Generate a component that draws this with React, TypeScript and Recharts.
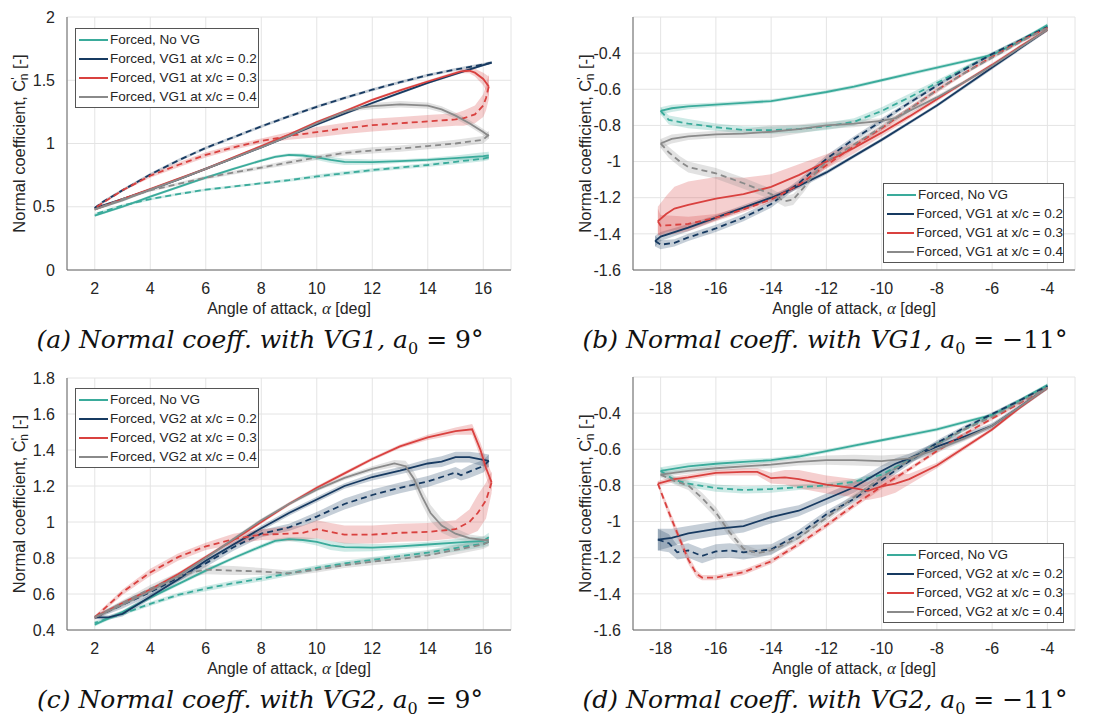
import React from "react";
import { ComposedChart, Line, Area, XAxis, YAxis, CartesianGrid, Label } from "recharts";

// each point: [angle of attack (deg), Cn, half width of the shaded band]
type Pt = [number, number, number];

const TEAL = "#3aab9b";
const NAVY = "#173a61";
const RED = "#d9413f";
const GREY = "#8a8a8a";
const COLORS = [TEAL, NAVY, RED, GREY];

const NAMES_VG1 = ["Forced, No VG", "Forced, VG1 at x/c = 0.2", "Forced, VG1 at x/c = 0.3", "Forced, VG1 at x/c = 0.4"];
const NAMES_VG2 = ["Forced, No VG", "Forced, VG2 at x/c = 0.2", "Forced, VG2 at x/c = 0.3", "Forced, VG2 at x/c = 0.4"];

const X_TICKS_POS = [2, 4, 6, 8, 10, 12, 14, 16];
const X_TICKS_NEG = [-18, -16, -14, -12, -10, -8, -6, -4];
const Y_TICKS_A = [0, 0.5, 1, 1.5, 2];
const Y_TICKS_C = [0.4, 0.6, 0.8, 1, 1.2, 1.4, 1.6, 1.8];
const Y_TICKS_NEG = [-1.6, -1.4, -1.2, -1, -0.8, -0.6, -0.4];

// (a) VG1, a0 = 9 deg
const A_NOVG_S: Pt[] = [[2, 0.43, 0.01], [3, 0.5, 0.01], [4, 0.58, 0.01], [5, 0.655, 0.01], [6, 0.73, 0.01], [7, 0.8, 0.01], [8, 0.865, 0.012], [8.5, 0.895, 0.012], [9, 0.91, 0.012], [9.5, 0.905, 0.015], [10, 0.89, 0.02], [10.5, 0.87, 0.025], [11, 0.855, 0.025], [12, 0.853, 0.02], [13, 0.86, 0.015], [14, 0.87, 0.015], [15, 0.885, 0.02], [16, 0.9, 0.03], [16.2, 0.905, 0.03]];
const A_NOVG_D: Pt[] = [[16.2, 0.89, 0.02], [16, 0.88, 0.02], [15, 0.855, 0.02], [14, 0.83, 0.015], [13, 0.81, 0.015], [12, 0.79, 0.015], [11, 0.765, 0.015], [10, 0.74, 0.015], [9, 0.71, 0.012], [8, 0.685, 0.01], [7, 0.66, 0.01], [6, 0.635, 0.01], [5, 0.6, 0.01], [4, 0.56, 0.01], [3, 0.51, 0.01], [2, 0.44, 0.01]];
const A_VG02_S: Pt[] = [[2, 0.49, 0.01], [3, 0.56, 0.01], [4, 0.635, 0.01], [5, 0.715, 0.01], [6, 0.8, 0.01], [7, 0.885, 0.01], [8, 0.97, 0.01], [9, 1.06, 0.01], [10, 1.15, 0.01], [11, 1.235, 0.01], [12, 1.32, 0.01], [13, 1.4, 0.01], [14, 1.48, 0.01], [15, 1.55, 0.01], [16, 1.62, 0.01], [16.3, 1.64, 0.01]];
const A_VG02_D: Pt[] = [[16.3, 1.64, 0.012], [16, 1.625, 0.012], [15, 1.585, 0.012], [14, 1.54, 0.012], [13, 1.485, 0.012], [12, 1.425, 0.012], [11, 1.36, 0.012], [10, 1.29, 0.012], [9, 1.215, 0.012], [8, 1.135, 0.012], [7, 1.05, 0.012], [6, 0.965, 0.012], [5, 0.865, 0.012], [4, 0.755, 0.012], [3, 0.63, 0.012], [2.3, 0.54, 0.012], [2, 0.49, 0.01]];
const A_VG03_S: Pt[] = [[2, 0.48, 0.01], [3, 0.56, 0.01], [4, 0.64, 0.01], [5, 0.72, 0.01], [6, 0.8, 0.01], [7, 0.89, 0.01], [8, 0.98, 0.01], [9, 1.07, 0.01], [10, 1.17, 0.01], [11, 1.255, 0.01], [12, 1.345, 0.01], [13, 1.42, 0.01], [14, 1.49, 0.01], [15.2, 1.57, 0.015], [15.5, 1.575, 0.02], [15.7, 1.56, 0.03], [16, 1.51, 0.05], [16.2, 1.45, 0.08]];
const A_VG03_D: Pt[] = [[16.2, 1.45, 0.1], [16.1, 1.36, 0.1], [16, 1.3, 0.09], [15.7, 1.23, 0.07], [15.3, 1.2, 0.06], [15, 1.19, 0.05], [14, 1.175, 0.05], [13, 1.16, 0.05], [12, 1.145, 0.05], [11, 1.12, 0.045], [10, 1.09, 0.04], [9, 1.06, 0.03], [8, 1.02, 0.02], [7, 0.97, 0.02], [6, 0.91, 0.02], [5, 0.83, 0.02], [4, 0.745, 0.015], [3, 0.63, 0.01], [2, 0.49, 0.01]];
const A_VG04_S: Pt[] = [[2, 0.48, 0.01], [3, 0.55, 0.01], [4, 0.635, 0.01], [5, 0.715, 0.01], [6, 0.8, 0.01], [7, 0.885, 0.01], [8, 0.97, 0.01], [9, 1.06, 0.01], [10, 1.16, 0.012], [11, 1.25, 0.015], [11.5, 1.28, 0.02], [12, 1.295, 0.025], [13, 1.31, 0.025], [14, 1.3, 0.025], [14.5, 1.27, 0.025], [15, 1.22, 0.025], [15.5, 1.16, 0.025], [16, 1.09, 0.025], [16.2, 1.06, 0.025]];
const A_VG04_D: Pt[] = [[16.2, 1.07, 0.03], [16, 1.03, 0.03], [15, 1.0, 0.03], [14, 0.98, 0.025], [13, 0.96, 0.025], [12, 0.945, 0.025], [11, 0.925, 0.02], [10, 0.89, 0.02], [9, 0.85, 0.02], [8, 0.81, 0.015], [7, 0.77, 0.015], [6, 0.73, 0.015], [5, 0.68, 0.012], [4, 0.63, 0.012], [3, 0.56, 0.01], [2, 0.48, 0.01]];

// (b) VG1, a0 = -11 deg
const B_NOVG_S: Pt[] = [[-4, -0.245, 0.01], [-5, -0.335, 0.01], [-6, -0.41, 0.01], [-7, -0.445, 0.01], [-8, -0.48, 0.01], [-9, -0.515, 0.01], [-10, -0.55, 0.01], [-11, -0.585, 0.01], [-12, -0.615, 0.01], [-13, -0.64, 0.01], [-14, -0.665, 0.01], [-15, -0.675, 0.012], [-16, -0.685, 0.012], [-17, -0.695, 0.015], [-17.6, -0.705, 0.02], [-18, -0.72, 0.02]];
const B_NOVG_D: Pt[] = [[-18, -0.72, 0.02], [-17.7, -0.77, 0.025], [-17, -0.79, 0.025], [-16, -0.81, 0.02], [-15, -0.825, 0.02], [-14, -0.826, 0.02], [-13, -0.82, 0.02], [-12, -0.805, 0.02], [-11, -0.78, 0.02], [-10, -0.72, 0.02], [-9, -0.645, 0.02], [-8, -0.565, 0.015], [-7, -0.485, 0.012], [-6, -0.405, 0.01], [-5, -0.33, 0.01], [-4, -0.25, 0.01]];
const B_VG02_S: Pt[] = [[-4, -0.27, 0.01], [-5, -0.375, 0.01], [-6, -0.48, 0.01], [-7, -0.585, 0.01], [-8, -0.69, 0.01], [-9, -0.785, 0.01], [-10, -0.88, 0.01], [-11, -0.97, 0.01], [-12, -1.06, 0.012], [-13, -1.135, 0.015], [-14, -1.2, 0.015], [-15, -1.255, 0.015], [-16, -1.31, 0.015], [-17, -1.365, 0.02], [-18, -1.415, 0.025], [-18.2, -1.44, 0.03]];
const B_VG02_D: Pt[] = [[-18.2, -1.44, 0.03], [-18, -1.46, 0.025], [-17.5, -1.45, 0.02], [-17, -1.42, 0.02], [-16, -1.37, 0.02], [-15, -1.31, 0.02], [-14, -1.235, 0.02], [-13, -1.12, 0.02], [-12, -0.985, 0.02], [-11, -0.875, 0.015], [-10, -0.775, 0.015], [-9, -0.675, 0.012], [-8, -0.58, 0.01], [-7, -0.49, 0.01], [-6, -0.405, 0.01], [-5, -0.33, 0.01], [-4, -0.255, 0.01]];
const B_VG03_S: Pt[] = [[-4, -0.27, 0.01], [-5, -0.365, 0.01], [-6, -0.465, 0.01], [-7, -0.56, 0.01], [-8, -0.655, 0.012], [-9, -0.75, 0.015], [-10, -0.84, 0.02], [-11, -0.925, 0.03], [-12, -1.0, 0.04], [-13, -1.075, 0.06], [-14, -1.14, 0.07], [-15, -1.18, 0.09], [-16, -1.205, 0.12], [-17, -1.24, 0.13], [-17.5, -1.26, 0.12], [-17.8, -1.29, 0.1], [-18.1, -1.33, 0.08]];
const B_VG03_D: Pt[] = [[-18.1, -1.33, 0.07], [-18, -1.355, 0.06], [-17, -1.345, 0.04], [-16, -1.31, 0.02], [-15, -1.265, 0.015], [-14, -1.21, 0.015], [-13, -1.13, 0.015], [-12, -1.02, 0.015], [-11, -0.915, 0.015], [-10, -0.815, 0.015], [-9, -0.71, 0.015], [-8, -0.605, 0.015], [-7, -0.51, 0.01], [-6, -0.42, 0.01], [-5, -0.335, 0.01], [-4, -0.26, 0.01]];
const B_VG04_S: Pt[] = [[-4, -0.27, 0.01], [-5, -0.37, 0.01], [-6, -0.47, 0.01], [-7, -0.56, 0.01], [-8, -0.645, 0.012], [-9, -0.72, 0.015], [-9.5, -0.76, 0.015], [-10, -0.775, 0.015], [-11, -0.79, 0.02], [-12, -0.8, 0.02], [-13, -0.82, 0.025], [-14, -0.835, 0.035], [-15, -0.845, 0.025], [-16, -0.85, 0.02], [-17, -0.86, 0.02], [-17.6, -0.875, 0.025], [-18, -0.9, 0.025]];
const B_VG04_D: Pt[] = [[-18, -0.9, 0.025], [-17.7, -0.95, 0.03], [-17.3, -1.0, 0.03], [-17, -1.03, 0.03], [-16, -1.065, 0.03], [-15, -1.12, 0.03], [-14.5, -1.15, 0.03], [-14, -1.18, 0.03], [-13.5, -1.22, 0.03], [-13.2, -1.21, 0.03], [-12.8, -1.14, 0.025], [-12.5, -1.08, 0.02], [-12, -1.0, 0.02], [-11, -0.905, 0.015], [-10, -0.81, 0.015], [-9, -0.71, 0.012], [-8, -0.605, 0.01], [-7, -0.51, 0.01], [-6, -0.425, 0.01], [-5, -0.34, 0.01], [-4, -0.26, 0.01]];

// (c) VG2, a0 = 9 deg
const C_NOVG_S: Pt[] = [[2, 0.43, 0.01], [3, 0.5, 0.01], [4, 0.58, 0.01], [5, 0.655, 0.01], [6, 0.73, 0.01], [7, 0.8, 0.01], [8, 0.865, 0.012], [8.5, 0.895, 0.012], [9, 0.905, 0.012], [9.5, 0.9, 0.015], [10, 0.89, 0.02], [10.5, 0.87, 0.025], [11, 0.86, 0.025], [12, 0.858, 0.02], [13, 0.865, 0.015], [14, 0.875, 0.015], [15, 0.885, 0.02], [16, 0.895, 0.025], [16.2, 0.915, 0.025]];
const C_NOVG_D: Pt[] = [[16.2, 0.89, 0.02], [16, 0.88, 0.02], [15, 0.855, 0.02], [14, 0.83, 0.015], [13, 0.81, 0.015], [12, 0.79, 0.015], [11, 0.77, 0.015], [10, 0.745, 0.015], [9, 0.715, 0.015], [8, 0.685, 0.015], [7, 0.66, 0.015], [6, 0.63, 0.015], [5, 0.595, 0.012], [4, 0.545, 0.012], [3, 0.49, 0.01], [2, 0.44, 0.01]];
const C_VG02_S: Pt[] = [[2, 0.47, 0.01], [2.5, 0.47, 0.012], [3, 0.49, 0.015], [4, 0.585, 0.015], [5, 0.68, 0.015], [6, 0.785, 0.015], [7, 0.875, 0.015], [8, 0.965, 0.015], [9, 1.05, 0.015], [10, 1.125, 0.015], [11, 1.2, 0.015], [12, 1.25, 0.02], [13, 1.285, 0.02], [14, 1.325, 0.025], [14.5, 1.335, 0.03], [15, 1.36, 0.03], [15.5, 1.36, 0.03], [16, 1.345, 0.035], [16.2, 1.34, 0.035]];
const C_VG02_D: Pt[] = [[16.2, 1.34, 0.035], [16, 1.31, 0.035], [15.5, 1.28, 0.035], [15.2, 1.26, 0.03], [15, 1.275, 0.03], [14.5, 1.25, 0.03], [14, 1.225, 0.03], [13, 1.19, 0.03], [12, 1.15, 0.03], [11, 1.1, 0.03], [10, 1.03, 0.025], [9, 0.97, 0.02], [8, 0.935, 0.02], [7, 0.86, 0.02], [6, 0.77, 0.02], [5, 0.69, 0.02], [4, 0.61, 0.02], [3, 0.54, 0.02], [2, 0.47, 0.01]];
const C_VG03_S: Pt[] = [[2, 0.47, 0.01], [3, 0.55, 0.01], [4, 0.625, 0.01], [5, 0.71, 0.01], [6, 0.805, 0.01], [7, 0.9, 0.01], [8, 1.0, 0.01], [9, 1.1, 0.01], [10, 1.19, 0.01], [11, 1.27, 0.01], [12, 1.35, 0.01], [13, 1.42, 0.01], [14, 1.47, 0.015], [15, 1.505, 0.02], [15.6, 1.515, 0.03], [15.9, 1.4, 0.04], [16.1, 1.3, 0.05], [16.3, 1.22, 0.05]];
const C_VG03_D: Pt[] = [[16.3, 1.22, 0.06], [16.1, 1.12, 0.1], [15.8, 1.05, 0.1], [15.5, 1.0, 0.07], [15, 0.96, 0.05], [14, 0.945, 0.05], [13, 0.94, 0.05], [12, 0.93, 0.05], [11, 0.93, 0.05], [10.5, 0.945, 0.05], [10, 0.96, 0.05], [9.5, 0.94, 0.04], [9, 0.935, 0.04], [8, 0.93, 0.03], [7, 0.905, 0.03], [6, 0.865, 0.02], [5, 0.805, 0.02], [4, 0.72, 0.02], [3, 0.61, 0.015], [2, 0.47, 0.01]];
const C_VG04_S: Pt[] = [[2, 0.47, 0.01], [3, 0.54, 0.01], [4, 0.615, 0.01], [5, 0.7, 0.01], [6, 0.8, 0.01], [7, 0.905, 0.01], [8, 1.01, 0.01], [9, 1.1, 0.01], [10, 1.18, 0.01], [11, 1.245, 0.012], [12, 1.295, 0.015], [12.8, 1.325, 0.02], [13.2, 1.31, 0.03], [13.5, 1.24, 0.04], [13.8, 1.14, 0.045], [14.1, 1.05, 0.045], [14.5, 0.98, 0.04], [15, 0.935, 0.03], [15.5, 0.91, 0.02], [16, 0.9, 0.02], [16.2, 0.9, 0.02]];
const C_VG04_D: Pt[] = [[16.2, 0.89, 0.025], [16, 0.875, 0.025], [15, 0.845, 0.025], [14, 0.815, 0.025], [13, 0.795, 0.02], [12, 0.78, 0.02], [11, 0.76, 0.015], [10, 0.735, 0.015], [9, 0.715, 0.015], [8, 0.725, 0.02], [7, 0.73, 0.025], [6, 0.735, 0.025], [5.5, 0.72, 0.025], [5, 0.695, 0.025], [4, 0.63, 0.02], [3, 0.55, 0.015], [2, 0.47, 0.01]];

// (d) VG2, a0 = -11 deg
const D_NOVG_S: Pt[] = [[-4, -0.245, 0.01], [-5, -0.33, 0.01], [-6, -0.41, 0.01], [-7, -0.45, 0.01], [-8, -0.49, 0.01], [-9, -0.52, 0.01], [-10, -0.55, 0.01], [-11, -0.58, 0.01], [-12, -0.61, 0.01], [-13, -0.64, 0.012], [-14, -0.66, 0.012], [-15, -0.67, 0.015], [-16, -0.68, 0.015], [-17, -0.695, 0.02], [-18, -0.72, 0.02]];
const D_NOVG_D: Pt[] = [[-18, -0.72, 0.02], [-17.5, -0.77, 0.02], [-17, -0.79, 0.02], [-16, -0.815, 0.02], [-15, -0.825, 0.02], [-14, -0.82, 0.02], [-13, -0.81, 0.015], [-12, -0.8, 0.015], [-11, -0.78, 0.015], [-10, -0.74, 0.015], [-9, -0.66, 0.015], [-8, -0.57, 0.012], [-7, -0.49, 0.01], [-6, -0.41, 0.01], [-5, -0.33, 0.01], [-4, -0.25, 0.01]];
const D_VG02_S: Pt[] = [[-4, -0.26, 0.01], [-5, -0.365, 0.012], [-6, -0.47, 0.015], [-7, -0.53, 0.02], [-8, -0.585, 0.025], [-9, -0.65, 0.025], [-9.5, -0.68, 0.03], [-10, -0.72, 0.03], [-11, -0.81, 0.03], [-12, -0.875, 0.03], [-13, -0.94, 0.03], [-14, -0.975, 0.035], [-15, -1.025, 0.035], [-16, -1.04, 0.04], [-17, -1.065, 0.04], [-17.6, -1.09, 0.05], [-18.1, -1.1, 0.06]];
const D_VG02_D: Pt[] = [[-18.1, -1.1, 0.06], [-17.7, -1.12, 0.05], [-17.4, -1.17, 0.04], [-17, -1.16, 0.04], [-16.5, -1.19, 0.04], [-16, -1.165, 0.04], [-15.5, -1.16, 0.04], [-15, -1.17, 0.04], [-14, -1.155, 0.03], [-13, -1.07, 0.025], [-12, -0.96, 0.02], [-11, -0.875, 0.02], [-10, -0.77, 0.02], [-9, -0.665, 0.02], [-8, -0.565, 0.015], [-7, -0.48, 0.012], [-6, -0.405, 0.01], [-5, -0.33, 0.01], [-4, -0.25, 0.01]];
const D_VG03_S: Pt[] = [[-4, -0.26, 0.01], [-5, -0.37, 0.01], [-6, -0.49, 0.01], [-7, -0.59, 0.012], [-8, -0.69, 0.015], [-9, -0.765, 0.03], [-9.5, -0.79, 0.05], [-10, -0.805, 0.06], [-10.5, -0.83, 0.05], [-11, -0.815, 0.05], [-12, -0.795, 0.05], [-13, -0.765, 0.05], [-13.5, -0.755, 0.04], [-14, -0.76, 0.03], [-14.5, -0.725, 0.02], [-15, -0.725, 0.02], [-16, -0.73, 0.015], [-17, -0.755, 0.015], [-17.5, -0.765, 0.015], [-18.1, -0.79, 0.015]];
const D_VG03_D: Pt[] = [[-18.1, -0.79, 0.015], [-17.7, -0.95, 0.025], [-17.3, -1.1, 0.025], [-17, -1.21, 0.025], [-16.7, -1.29, 0.02], [-16.5, -1.31, 0.015], [-16, -1.31, 0.015], [-15, -1.28, 0.015], [-14, -1.22, 0.015], [-13, -1.125, 0.015], [-12, -1.02, 0.015], [-11, -0.91, 0.015], [-10, -0.805, 0.015], [-9, -0.71, 0.012], [-8, -0.61, 0.01], [-7, -0.515, 0.01], [-6, -0.43, 0.01], [-5, -0.345, 0.01], [-4, -0.26, 0.01]];
const D_VG04_S: Pt[] = [[-4, -0.26, 0.01], [-5, -0.365, 0.01], [-6, -0.47, 0.012], [-7, -0.54, 0.015], [-8, -0.6, 0.02], [-9, -0.65, 0.025], [-10, -0.665, 0.03], [-11, -0.66, 0.03], [-12, -0.66, 0.025], [-13, -0.67, 0.02], [-14, -0.685, 0.02], [-15, -0.695, 0.015], [-16, -0.705, 0.015], [-17, -0.72, 0.015], [-18, -0.74, 0.015]];
const D_VG04_D: Pt[] = [[-18, -0.74, 0.015], [-17.5, -0.775, 0.02], [-17, -0.8, 0.025], [-16.5, -0.87, 0.03], [-16, -0.95, 0.03], [-15.5, -1.06, 0.03], [-15, -1.15, 0.025], [-14.5, -1.175, 0.02], [-14, -1.16, 0.02], [-13, -1.09, 0.02], [-12, -0.98, 0.02], [-11, -0.865, 0.02], [-10, -0.755, 0.02], [-9, -0.66, 0.015], [-8, -0.575, 0.012], [-7, -0.49, 0.01], [-6, -0.42, 0.01], [-5, -0.34, 0.01], [-4, -0.26, 0.01]];

const FONT = "'Liberation Sans', Arial, sans-serif";
const TICK = { fill: "#262626", fontSize: 16, fontFamily: FONT };

interface PanelDef {
  left: number;
  top: number;
  width: number;
  yW: number;
  mTop: number;
  mRight: number;
  xDomain: [number, number];
  xTicks: number[];
  yDomain: [number, number];
  yTicks: number[];
  curves: [Pt[], Pt[]][];
  names: string[];
  legend: { left: number; top: number; width: number };
  letter: string;
  vg: string;
  a0: string;
  capX: number;
  capY: number;
}

const PANELS: PanelDef[] = [
  {
    left: 0, top: 0, width: 550, yW: 67, mTop: 17, mRight: 39,
    xDomain: [1, 17], xTicks: X_TICKS_POS, yDomain: [0, 2], yTicks: Y_TICKS_A,
    curves: [[A_NOVG_S, A_NOVG_D], [A_VG02_S, A_VG02_D], [A_VG03_S, A_VG03_D], [A_VG04_S, A_VG04_D]],
    names: NAMES_VG1, legend: { left: 75, top: 28, width: 184 },
    letter: "a", vg: "VG1", a0: "9°", capX: 260, capY: 325,
  },
  {
    left: 550, top: 0, width: 555, yW: 83, mTop: 17, mRight: 30,
    xDomain: [-19, -3], xTicks: X_TICKS_NEG, yDomain: [-1.6, -0.2], yTicks: Y_TICKS_NEG,
    curves: [[B_NOVG_S, B_NOVG_D], [B_VG02_S, B_VG02_D], [B_VG03_S, B_VG03_D], [B_VG04_S, B_VG04_D]],
    names: NAMES_VG1, legend: { left: 333, top: 183, width: 181 },
    letter: "b", vg: "VG1", a0: "\u221211°", capX: 825, capY: 325,
  },
  {
    left: 0, top: 360, width: 550, yW: 67, mTop: 18, mRight: 39,
    xDomain: [1, 17], xTicks: X_TICKS_POS, yDomain: [0.4, 1.8], yTicks: Y_TICKS_C,
    curves: [[C_NOVG_S, C_NOVG_D], [C_VG02_S, C_VG02_D], [C_VG03_S, C_VG03_D], [C_VG04_S, C_VG04_D]],
    names: NAMES_VG2, legend: { left: 75, top: 28, width: 184 },
    letter: "c", vg: "VG2", a0: "9°", capX: 260, capY: 685,
  },
  {
    left: 550, top: 360, width: 555, yW: 83, mTop: 17, mRight: 30,
    xDomain: [-19, -3], xTicks: X_TICKS_NEG, yDomain: [-1.6, -0.2], yTicks: Y_TICKS_NEG,
    curves: [[D_NOVG_S, D_NOVG_D], [D_VG02_S, D_VG02_D], [D_VG03_S, D_VG03_D], [D_VG04_S, D_VG04_D]],
    names: NAMES_VG2, legend: { left: 333, top: 183, width: 181 },
    letter: "d", vg: "VG2", a0: "\u221211°", capX: 825, capY: 685,
  },
];

const toLine = (pts: Pt[]) => pts.map(([a, c]) => ({ a, c }));
const toBand = (pts: Pt[]) => pts.map(([a, c, w]) => ({ a, band: [c - w, c + w] }));

function XTitle(props: any) {
  const { x, y, width } = props.viewBox;
  return (
    <text x={x + width / 2} y={y + 38} textAnchor="middle" dominantBaseline="central" fill="#262626" fontSize={16} fontFamily={FONT}>
      Angle of attack, <tspan fontFamily="'Liberation Serif', serif" fontStyle="italic" fontSize={17}>α</tspan> [deg]
    </text>
  );
}

function YTitle(props: any) {
  const { x, y, width, height } = props.viewBox;
  const cx = x + width - 48;
  const cy = y + height / 2;
  return (
    <text x={cx} y={cy} transform={`rotate(-90 ${cx} ${cy})`} textAnchor="middle" dominantBaseline="central" fill="#262626" fontSize={16.5} fontFamily={FONT}>
      Normal coefficient, C<tspan dy={-4} fontSize={13}>'</tspan>
      <tspan dy={9} dx={-3} fontSize={12}>n</tspan>
      <tspan dy={-5}> [-]</tspan>
    </text>
  );
}

function LegendBox({ p }: { p: PanelDef }) {
  return (
    <div
      style={{
        position: "absolute",
        left: p.legend.left,
        top: p.legend.top,
        width: p.legend.width,
        boxSizing: "border-box",
        background: "#fff",
        border: "1px solid #555",
        padding: "1px 0 1px 3px",
        fontFamily: FONT,
        fontSize: 13.5,
        color: "#262626",
      }}
    >
      {p.names.map((n, i) => (
        <div key={n} style={{ display: "flex", alignItems: "center", height: 19 }}>
          <span style={{ display: "inline-block", width: 29, height: 2, background: COLORS[i], marginRight: 2 }} />
          <span style={{ whiteSpace: "nowrap" }}>{n}</span>
        </div>
      ))}
    </div>
  );
}

function Panel({ p }: { p: PanelDef }) {
  return (
    <div style={{ position: "absolute", left: p.left, top: p.top, width: p.width, height: 320 }}>
      <ComposedChart width={p.width} height={320} margin={{ top: p.mTop, right: p.mRight, bottom: 5, left: 0 }}>
        <CartesianGrid stroke="#e4e4e4" />
        <XAxis
          type="number"
          dataKey="a"
          domain={p.xDomain}
          ticks={p.xTicks}
          interval={0}
          allowDataOverflow
          height={45}
          tickLine={false}
          tickMargin={7}
          axisLine={{ stroke: "#666" }}
          tick={TICK}
        >
          <Label content={XTitle} />
        </XAxis>
        <YAxis
          type="number"
          domain={p.yDomain}
          ticks={p.yTicks}
          interval={0}
          allowDataOverflow
          width={p.yW}
          tickLine={false}
          tickMargin={6}
          axisLine={{ stroke: "#666" }}
          tick={TICK}
        >
          <Label content={YTitle} />
        </YAxis>
        {p.curves.flatMap((seg, i) =>
          seg.map((pts, j) => (
            <Area
              key={`band-${i}-${j}`}
              data={toBand(pts)}
              dataKey="band"
              type="linear"
              stroke="none"
              fill={COLORS[i]}
              fillOpacity={0.25}
              dot={false}
              activeDot={false}
              isAnimationActive={false}
            />
          ))
        )}
        {p.curves.flatMap((seg, i) =>
          seg.map((pts, j) => (
            <Line
              key={`line-${i}-${j}`}
              data={toLine(pts)}
              dataKey="c"
              type="linear"
              stroke={COLORS[i]}
              strokeWidth={1.8}
              strokeDasharray={j === 1 ? "6 4" : undefined}
              dot={false}
              activeDot={false}
              isAnimationActive={false}
            />
          ))
        )}
      </ComposedChart>
      <LegendBox p={p} />
    </div>
  );
}

function Caption({ p }: { p: PanelDef }) {
  return (
    <div
      style={{
        position: "absolute",
        left: p.capX - 300,
        top: p.capY,
        width: 600,
        textAlign: "center",
        fontFamily: "'DejaVu Serif', serif",
        fontSize: 25,
        color: "#111",
        whiteSpace: "nowrap",
      }}
    >
      <span style={{ fontStyle: "italic" }}>({p.letter}) Normal coeff. with {p.vg}, a</span>
      <sub style={{ fontSize: 16 }}>0</sub>
      <span> = {p.a0}</span>
    </div>
  );
}

export default function App() {
  return (
    <div style={{ position: "relative", width: 1105, height: 722, margin: -8, background: "#fff", overflow: "hidden" }}>
      {PANELS.map((p) => (
        <Panel key={p.letter} p={p} />
      ))}
      {PANELS.map((p) => (
        <Caption key={`cap-${p.letter}`} p={p} />
      ))}
    </div>
  );
}
